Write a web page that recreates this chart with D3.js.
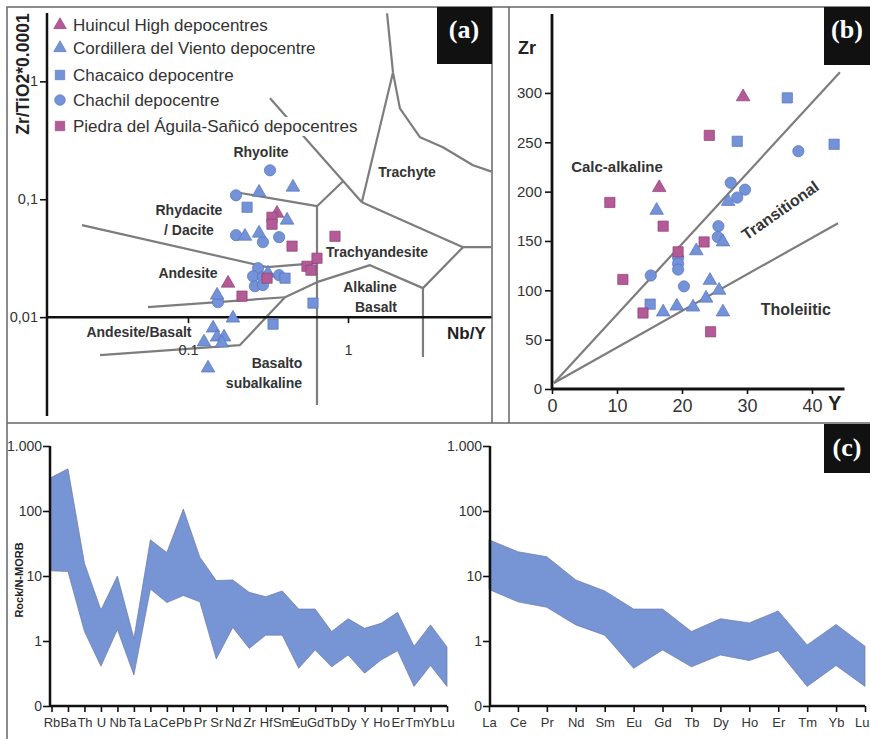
<!DOCTYPE html>
<html><head><meta charset="utf-8">
<script src="https://cdn.jsdelivr.net/npm/d3@7/dist/d3.min.js"></script>
<style>body{margin:0;background:#fff} svg{display:block}</style>
</head><body>
<svg id="c" width="870" height="739"></svg>
<script>
// ---------------- DATA ----------------
const legendNames = ["Huincul High depocentres","Cordillera del Viento depocentre","Chacaico depocentre","Chachil depocentre","Piedra del Águila-Sañicó depocentres"];

// Panel (a): [Nb/Y, Zr/TiO2*0.0001]
const aHuincul = [[0.360,0.0760],[0.178,0.0194]];
const aCordillera = [[0.278,0.1146],[0.453,0.1265],[0.416,0.0664],[0.227,0.0485],[0.278,0.0515],[0.316,0.0236],[0.152,0.01535],[0.191,0.0098],[0.1435,0.00807],[0.1259,0.00614],[0.152,0.00677],[0.168,0.00677],[0.163,0.00602],[0.1334,0.0037]];
const aChacaico = [[0.234,0.0855],[0.404,0.0214],[0.604,0.01315],[0.340,0.00872]];
const aChachil = [[0.3255,0.176],[0.1995,0.108],[0.1995,0.0496],[0.294,0.0433],[0.371,0.0477],[0.274,0.026],[0.255,0.0222],[0.294,0.0218],[0.371,0.0227],[0.262,0.0183],[0.294,0.0187],[0.154,0.0134]];
const aPiedra = [[0.335,0.0703],[0.335,0.0614],[0.447,0.040],[0.829,0.0485],[0.640,0.0316],[0.554,0.027],[0.587,0.025],[0.312,0.0214],[0.2175,0.01507]];
const aBoundaries = [
  [[1.754,3.77],[1.91,1.19]],
  [[1.91,1.19],[2.11,0.59],[2.82,0.335],[3.92,0.276],[6.04,0.194],[8.06,0.170]],
  [[1.91,1.19],[1.22,0.0944]],
  [[0.3255,0.718],[1.22,0.0944]],
  [[0.931,0.142],[0.640,0.0873]],
  [[0.1995,0.1146],[0.640,0.0873]],
  [[0.640,0.0873],[0.640,0.001795]],
  [[1.22,0.0944],[5.23,0.0392],[8.06,0.0392]],
  [[5.23,0.0392],[2.94,0.01762],[2.94,0.00458]],
  [[2.94,0.01762],[1.372,0.0276],[0.640,0.0198],[0.404,0.01475],[0.2113,0.00579],[0.0282,0.00476]],
  [[0.0562,0.01216],[0.404,0.01475]],
  [[0.02175,0.0603],[0.312,0.02655],[0.640,0.0287]]
];
const aRegionLabels = [["Rhyolite",0.286,0.250],["Trachyte",2.34,0.170],["Rhydacite",0.1014,0.0807],["/ Dacite",0.1014,0.0546],["Andesite",0.1,0.0236],["Trachyandesite",1.518,0.0356],["Alkaline",1.372,0.01795],["Basalt",1.496,0.01216],["Andesite/Basalt",0.0494,0.00746],["Basalto",0.36,0.00407],["subalkaline",0.2985,0.00276]];
const aXTicks = [0.1, 1], aXTickLabels = ["0.1","1"];
const aYTicks = [0.01, 0.1, 1], aYTickLabels = ["0,01","0,1","1"];

// Panel (b): [Y, Zr]
const bHuincul = [[29.4,296],[16.5,204]];
const bCordillera = [[27.1,190],[16.1,181],[22.2,140],[26.3,149],[24.3,110],[25.7,100],[23.7,92],[19.2,84],[21.7,83],[17.1,78],[26.3,78]];
const bChacaico = [[36.2,295],[28.5,251],[43.4,248],[15.1,86]];
const bChachil = [[37.9,241],[27.5,209],[29.7,202],[28.5,194],[25.6,165],[25.5,154],[19.4,133],[19.4,127],[19.4,121],[15.2,115],[20.3,104]];
const bPiedra = [[24.2,257],[8.9,189],[17.1,165],[19.4,139],[23.4,149],[10.9,111],[14.0,77],[24.4,58]];
const bLines = [[[0.3,6],[44.3,321]],[[0.3,6],[44,168]]];
const bXTicks = [0,10,20,30,40];
const bYTicks = [0,50,100,150,200,250,300];

// Panel (c)
const spiderElems = ["Rb","Ba","Th","U","Nb","Ta","La","Ce","Pb","Pr","Sr","Nd","Zr","Hf","Sm","Eu","Gd","Tb","Dy","Y","Ho","Er","Tm","Yb","Lu"];
const spiderUpper = [330,445,15.7,3.0,10,1.1,36,23,107,19.5,8.5,8.7,5.6,4.8,5.9,3.1,3.1,1.4,2.2,1.57,1.87,2.76,0.83,1.77,0.81];
const spiderLower = [12,11.7,1.4,0.41,1.5,0.3,6.3,3.9,5.0,4.0,0.53,1.62,0.77,1.23,1.23,0.38,0.73,0.40,0.61,0.32,0.51,0.71,0.20,0.42,0.20];
const reeElems = ["La","Ce","Pr","Nd","Sm","Eu","Gd","Tb","Dy","Ho","Er","Tm","Yb","Lu"];
const reeUpper = [36,23.6,19.8,8.7,5.9,3.1,3.1,1.4,2.2,1.9,2.9,0.87,1.8,0.83];
const reeLower = [6.2,4.0,3.3,1.77,1.23,0.38,0.73,0.40,0.61,0.50,0.71,0.20,0.42,0.20];
const cYTicks = [0.1,1,10,100,1000], cYTickLabels = ["0","1","10","100","1.000"];

// ---------------- STYLE ----------------
const F = "'Liberation Sans', Arial, Helvetica, sans-serif";
const FN = "'Liberation Sans Narrow','Arial Narrow','Liberation Sans',Arial,sans-serif";
const FS = "'Liberation Serif','Times New Roman',serif";
const PINK = "#b35a97", BLUE = "#7392d8";
const TXT = "#333";
const svg = d3.select("#c");

const series = [
  {name: legendNames[3], sym: d3.symbolCircle, size: 100, color: BLUE, a: aChachil, b: bChachil},
  {name: legendNames[1], sym: d3.symbolTriangle, size: 80, color: BLUE, a: aCordillera, b: bCordillera},
  {name: legendNames[2], sym: d3.symbolSquare, size: 105, color: BLUE, a: aChacaico, b: bChacaico},
  {name: legendNames[0], sym: d3.symbolTriangle, size: 80, color: PINK, a: aHuincul, b: bHuincul},
  {name: legendNames[4], sym: d3.symbolSquare, size: 105, color: PINK, a: aPiedra, b: bPiedra}
];
const strokeOf = c => c === PINK ? "#8d4278" : "#5673bb";

function drawMarkers(g, s, pts, x, y) {
  g.selectAll(null).data(pts).enter().append("path")
    .attr("d", d3.symbol().type(s.sym).size(s.size)())
    .attr("transform", d => `translate(${x(d[0])},${y(d[1])})`)
    .attr("fill", s.color).attr("stroke", strokeOf(s.color)).attr("stroke-width", 0.7);
}
function styleAxis(g, fs, fam) {
  g.select(".domain").remove();
  g.selectAll(".tick line").attr("stroke", "#111").attr("stroke-width", 1.6);
  g.selectAll(".tick text").attr("fill", TXT).attr("font-size", fs).attr("font-family", fam);
}

// ---------------- FRAME ----------------
const frame = svg.append("g").attr("fill","none").attr("stroke","#666").attr("stroke-width",1.5);
frame.append("path").attr("d","M7,739V7H870");
frame.append("line").attr("x1",7).attr("x2",870).attr("y1",423).attr("y2",423);
frame.append("line").attr("x1",492).attr("x2",492).attr("y1",7).attr("y2",423);
frame.append("line").attr("x1",509).attr("x2",509).attr("y1",7).attr("y2",423);

// ---------------- PANEL A ----------------
const xA = d3.scaleLog().domain([0.01315, 7.94]).range([47, 492]);
const yA = d3.scaleLog().domain([0.00145, 3.8]).range([416, 13]);
svg.append("clipPath").attr("id","clipA").append("rect").attr("x",8).attr("y",8).attr("width",483.5).attr("height",414);
const gA = svg.append("g").attr("clip-path","url(#clipA)");
const lineA = d3.line().x(d => xA(d[0])).y(d => yA(d[1]));
gA.selectAll(null).data(aBoundaries).enter().append("path")
  .attr("d", lineA).attr("fill","none").attr("stroke","#7d7d7d").attr("stroke-width",2.2).attr("stroke-linejoin","round");

// axes
gA.append("line").attr("x1",xA(0.01315)).attr("x2",xA(7.94)).attr("y1",yA(0.01)).attr("y2",yA(0.01)).attr("stroke","#111").attr("stroke-width",2.5);
svg.append("line").attr("x1",xA(0.01315)).attr("x2",xA(0.01315)).attr("y1",yA(3.8)).attr("y2",yA(0.00145)).attr("stroke","#111").attr("stroke-width",2.5);
const axAy = svg.append("g").attr("transform",`translate(${xA(0.01315)},0)`)
  .call(d3.axisLeft(yA).tickValues(aYTicks).tickFormat((d,i)=>aYTickLabels[i]).tickSize(7).tickPadding(2));
styleAxis(axAy, 14.5, FN);
const axAx = svg.append("g").attr("transform",`translate(0,${yA(0.01)})`)
  .call(d3.axisBottom(xA).tickValues(aXTicks).tickFormat((d,i)=>aXTickLabels[i]).tickSize(6).tickPadding(22));
styleAxis(axAx, 14.5, FN);

// region labels
svg.selectAll(null).data(aRegionLabels).enter().append("text")
  .attr("x", d => xA(d[1])).attr("y", d => yA(d[2])).attr("dy","0.35em")
  .attr("text-anchor","middle").attr("font-family",F).attr("font-weight","bold").attr("font-size",14)
  .attr("fill",TXT).text(d => d[0]);

svg.append("text").attr("x",447).attr("y",339).attr("font-family",F).attr("font-weight","bold").attr("font-size",17).attr("fill","#222").text("Nb/Y");
svg.append("text").attr("transform","translate(29,74) rotate(-90)").attr("text-anchor","middle")
  .attr("font-family",F).attr("font-weight","bold").attr("font-size",17.5).attr("fill","#222").text("Zr/TiO2*0.0001");

// markers
series.forEach(s => drawMarkers(svg.append("g"), s, s.a, xA, yA));

// legend
const legendOrder = [3,1,2,0,4];
const legendRowY = [25, 48, 75, 100, 126];
legendOrder.forEach((si, i) => {
  const s = series[si];
  const g = svg.append("g").attr("transform",`translate(0,${legendRowY[i]})`);
  const bg = g.append("rect").attr("fill","#fff");
  const t = g.append("text").attr("x",73).attr("y",0).attr("dy","0.35em")
    .attr("font-family",F).attr("font-size",17).attr("fill",TXT).text(s.name);
  const bb = t.node().getBBox();
  bg.attr("x",bb.x-2).attr("y",bb.y).attr("width",bb.width+4).attr("height",bb.height);
  g.append("path").attr("d", d3.symbol().type(s.sym).size(s.sym===d3.symbolTriangle?70:90)())
    .attr("transform","translate(60,0)").attr("fill",s.color).attr("stroke",strokeOf(s.color)).attr("stroke-width",0.6);
});

// label box (a)
svg.append("rect").attr("x",437).attr("y",7).attr("width",55).attr("height",57).attr("fill","#111");
svg.append("text").attr("x",464).attr("y",38).attr("text-anchor","middle").attr("font-family",FS).attr("font-weight","bold").attr("font-size",26).attr("fill","#fff").text("(a)");

// ---------------- PANEL B ----------------
const xB = d3.scaleLinear().domain([0,45]).range([552, 844.5]);
const yB = d3.scaleLinear().domain([0,380]).range([389, 14]);
const lineB = d3.line().x(d => xB(d[0])).y(d => yB(d[1]));
svg.selectAll(null).data(bLines).enter().append("path").attr("d",lineB)
  .attr("fill","none").attr("stroke","#7d7d7d").attr("stroke-width",2.2);
svg.append("line").attr("x1",xB(0)).attr("x2",xB(0)).attr("y1",yB(380)).attr("y2",yB(0)).attr("stroke","#111").attr("stroke-width",2.8);
svg.append("line").attr("x1",xB(0)).attr("x2",xB(45)).attr("y1",yB(0)).attr("y2",yB(0)).attr("stroke","#111").attr("stroke-width",2.8);
const axBy = svg.append("g").attr("transform",`translate(${xB(0)},0)`)
  .call(d3.axisLeft(yB).tickValues(bYTicks).tickSize(7).tickPadding(3));
styleAxis(axBy, 15, F);
const axBx = svg.append("g").attr("transform",`translate(0,${yB(0)})`)
  .call(d3.axisBottom(xB).tickValues(bXTicks).tickSize(5).tickPadding(5));
styleAxis(axBx, 18, F);

svg.append("text").attr("x",518).attr("y",54).attr("font-family",F).attr("font-weight","bold").attr("font-size",18).attr("fill","#222").text("Zr");
svg.append("text").attr("x",828).attr("y",410).attr("font-family",F).attr("font-weight","bold").attr("font-size",20).attr("fill","#222").text("Y");
svg.append("text").attr("x",xB(10)).attr("y",yB(225)).attr("dy","0.35em").attr("text-anchor","middle").attr("font-family",F).attr("font-weight","bold").attr("font-size",15).attr("fill",TXT).text("Calc-alkaline");
svg.append("text").attr("transform",`translate(${xB(35.1)},${yB(181)}) rotate(-35)`).attr("dy","0.35em").attr("text-anchor","middle").attr("font-family",F).attr("font-weight","bold").attr("font-size",16).attr("fill",TXT).text("Transitional");
svg.append("text").attr("x",xB(37.5)).attr("y",yB(81)).attr("dy","0.35em").attr("text-anchor","middle").attr("font-family",F).attr("font-weight","bold").attr("font-size",16).attr("fill",TXT).text("Tholeiitic");

series.forEach(s => drawMarkers(svg.append("g"), s, s.b, xB, yB));

svg.append("rect").attr("x",824).attr("y",7).attr("width",46).attr("height",58).attr("fill","#111");
svg.append("text").attr("x",847).attr("y",38).attr("text-anchor","middle").attr("font-family",FS).attr("font-weight","bold").attr("font-size",26).attr("fill","#fff").text("(b)");

// ---------------- PANEL C ----------------
const yC = d3.scaleLog().domain([0.1,1000]).range([706,446]);
function spider(elems, upper, lower, x0, x1, axisX) {
  const x = d3.scalePoint().domain(elems).range([x0, x1]);
  const rows = elems.map((e,i) => ({e, hi: upper[i], lo: lower[i]}));
  svg.append("path").datum(rows)
    .attr("d", d3.area().x(d => x(d.e)).y0(d => yC(d.lo)).y1(d => yC(d.hi)))
    .attr("fill","#7795d4").attr("stroke","#6a79a8").attr("stroke-width",0.7);
  svg.append("line").attr("x1",axisX).attr("x2",axisX).attr("y1",yC(1000)).attr("y2",yC(0.1)).attr("stroke","#111").attr("stroke-width",2.5);
  svg.append("line").attr("x1",axisX).attr("x2",x1).attr("y1",yC(0.1)).attr("y2",yC(0.1)).attr("stroke","#111").attr("stroke-width",2.5);
  const ay = svg.append("g").attr("transform",`translate(${axisX},0)`)
    .call(d3.axisLeft(yC).tickValues(cYTicks).tickFormat((d,i)=>cYTickLabels[i]).tickSize(7).tickPadding(1));
  styleAxis(ay, 14, FN);
  const ax = svg.append("g").attr("transform",`translate(0,${yC(0.1)})`)
    .call(d3.axisBottom(x).tickSize(6).tickPadding(6));
  styleAxis(ax, 13, FN);
  return ax;
}
spider(spiderElems, spiderUpper, spiderLower, 51.5, 447, 50);
const axR = spider(reeElems, reeUpper, reeLower, 489, 865, 490);
// keep the last label inside the picture
axR.selectAll(".tick text").filter(d => d === "Lu").attr("text-anchor","end").attr("dx", 4);

svg.append("text").attr("transform","translate(23,580) rotate(-90)").attr("text-anchor","middle")
  .attr("font-family",F).attr("font-weight","bold").attr("font-size",11).attr("fill","#222").text("Rock/N-MORB");

svg.append("rect").attr("x",824).attr("y",424).attr("width",46).attr("height",49).attr("fill","#111");
svg.append("text").attr("x",847).attr("y",456).attr("text-anchor","middle").attr("font-family",FS).attr("font-weight","bold").attr("font-size",26).attr("fill","#fff").text("(c)");
</script>
</body></html>
